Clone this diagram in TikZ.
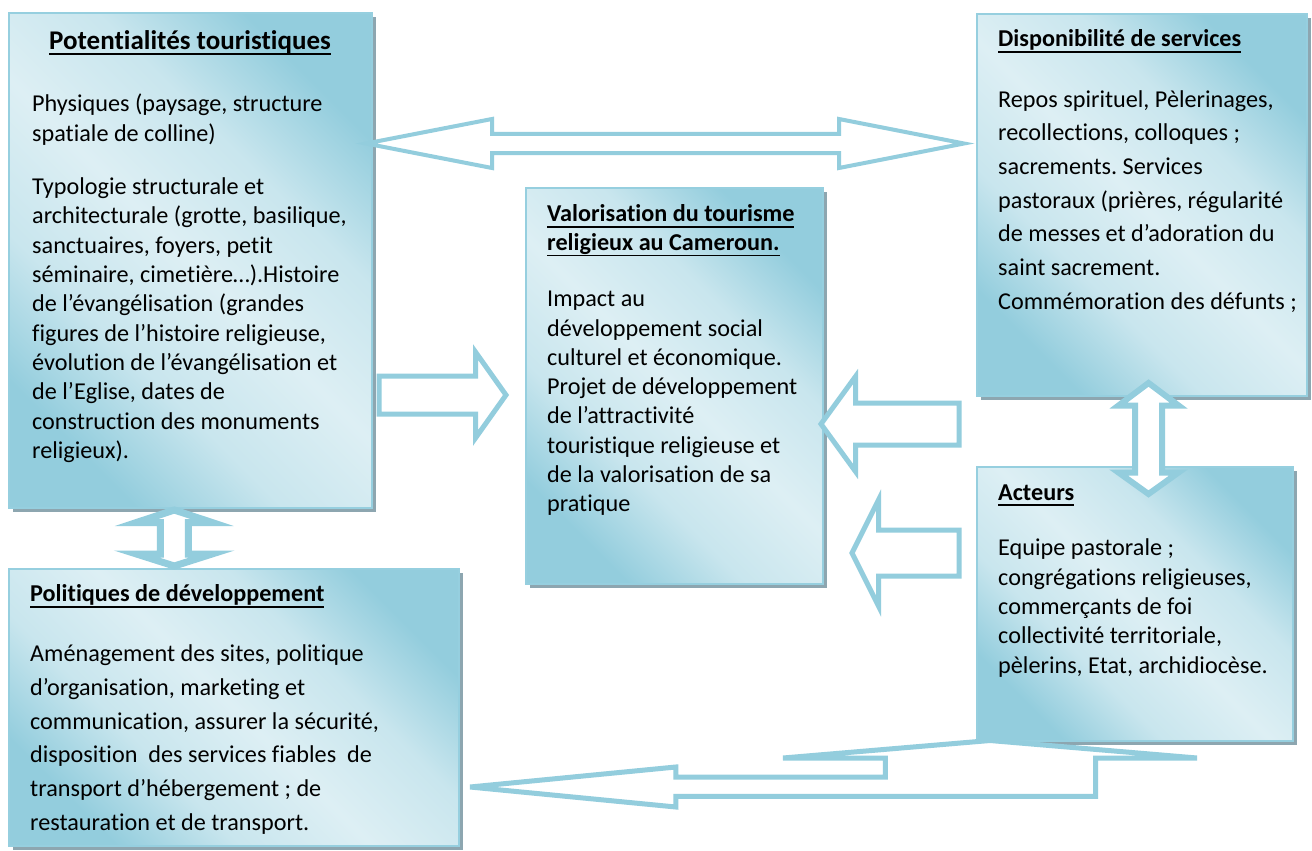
\documentclass[tikz,border=0pt]{standalone}
\usepackage{fontspec}
\setmainfont{Carlito}[Ligatures=CommonOff]
\usetikzlibrary{shadows}
\definecolor{boxdark}{RGB}{147,205,221}
\definecolor{boxlight}{RGB}{221,239,244}
\colorlet{boxmid}{boxlight!72!boxdark}
\definecolor{boxborder}{RGB}{150,207,223}
\definecolor{arrowc}{RGB}{147,205,221}
\definecolor{shadowc}{RGB}{141,166,176}
\pgfdeclareverticalshading{panelshade}{100bp}{color(0bp)=(boxdark); color(25bp)=(boxdark); color(37bp)=(boxmid); color(50bp)=(boxlight); color(63bp)=(boxmid); color(75bp)=(boxdark); color(100bp)=(boxdark)}
\newsavebox{\ulsave}
\newcommand{\ulx}[1]{\sbox{\ulsave}{#1}\rlap{\rule[-5.8pt]{\wd\ulsave}{1.4pt}}\usebox{\ulsave}}
\frenchspacing
\begin{document}
\begin{tikzpicture}[x=1pt,y=-1pt,
  panel/.style={draw=boxborder, line width=1.8pt, inner sep=0pt, anchor=north west,
    shade, shading=panelshade, shading angle=-45,
    drop shadow={shadow xshift=4pt, shadow yshift=-4pt, fill=shadowc, opacity=1}},
  blockarrow/.style={draw=arrowc, line width=4.5pt, fill=white, line join=miter},
  body/.style={anchor=base west, inner sep=0pt, align=left, font=\fontsize{24.2pt}{29.3pt}\selectfont},
  bodywide/.style={body, font=\fontsize{24.2pt}{33.7pt}\selectfont},
  titletext/.style={anchor=base west, inner sep=0pt, align=left, font=\bfseries\fontsize{24.2pt}{28.5pt}\selectfont}]
\useasboundingbox (0,0) rectangle (1312,851);
\fill[white] (0,0) rectangle (1312,851);
% boxes
\node[panel, minimum width=363pt, minimum height=495pt] (b1) at (8,12) {};
\node[panel, minimum width=330pt, minimum height=382pt] (b2) at (976,13) {};
\node[panel, minimum width=297pt, minimum height=396pt] (b3) at (525,187) {};
\node[panel, minimum width=316pt, minimum height=274pt] (b4) at (976,466) {};
\node[panel, minimum width=450pt, minimum height=277pt] (b5) at (8,568) {};
% arrows
\draw[blockarrow, line width=4pt] (366,143.5) -- (492,119) -- (492,133.8) -- (839,133.8) -- (839,119) -- (964,143.5)
  -- (839,168) -- (839,153.2) -- (492,153.2) -- (492,168) -- cycle;
\draw[blockarrow, line width=5pt] (379,376) -- (475.5,376) -- (475.5,352) -- (506,395) -- (475.5,438) -- (475.5,414) -- (379,414) -- cycle;
\draw[blockarrow, line width=5pt] (821,424) -- (855.5,376.5) -- (855.5,403) -- (959,403) -- (959,445) -- (855.5,445) -- (855.5,471.5) -- cycle;
\draw[blockarrow, line width=5pt] (852,553) -- (878.5,500) -- (878.5,530) -- (959,530) -- (959,576) -- (878.5,576) -- (878.5,606) -- cycle;
\draw[blockarrow, line width=6pt] (1148.5,383) -- (1178.5,405.5) -- (1162,405.5) -- (1162,472.5) -- (1178.5,472.5) -- (1148.5,494)
  -- (1118.5,472.5) -- (1135,472.5) -- (1135,405.5) -- (1118.5,405.5) -- cycle;
\draw[blockarrow, line width=7pt] (174.3,510) -- (212,522.5) -- (188.3,522.5) -- (188.3,554) -- (212,554) -- (174.3,566)
  -- (136.5,554) -- (160.3,554) -- (160.3,522.5) -- (136.5,522.5) -- cycle;
\draw[blockarrow, line width=5pt] (470,787) -- (675.8,767) -- (675.8,777) -- (885.3,777) -- (885.3,758) -- (783,758)
  -- (990,740.5) -- (1197,758) -- (1095.5,758) -- (1095.5,796.3) -- (675.8,796.3) -- (675.8,807) -- cycle;
% texts box 1
\node[titletext, anchor=base, font=\bfseries\fontsize{27pt}{30pt}\selectfont] (t1) at (190,49) {\ulx{Potentialités touristiques}};
\node[body] (p1a) at (32,141) {Physiques (paysage, structure\\spatiale de colline)};
\node[body] (p1b) at (32,458.3) {Typologie structurale et\\architecturale (grotte, basilique,\\sanctuaires, foyers, petit\\séminaire, cimetière…).Histoire\\de l’évangélisation (grandes\\figures de l’histoire religieuse,\\évolution de l’évangélisation et\\de l’Eglise, dates de\\construction des monuments\\religieux).};
% box 2
\node[titletext] (t2) at (998,47) {\ulx{Disponibilité de services}};
\node[bodywide] (p2) at (998,309.2) {Repos spirituel, Pèlerinages,\\recollections, colloques ;\\sacrements. Services\\pastoraux (prières, régularité\\de messes et d’adoration du\\saint sacrement.\\Commémoration des défunts ;};
% box 3
\node[titletext] (t3) at (547,250.2) {\ulx{Valorisation du tourisme}\\\ulx{religieux au Cameroun.}};
\node[body] (p3) at (547,511.8) {Impact au\\développement social\\culturel et économique.\\Projet de développement\\de l’attractivité\\touristique religieuse et\\de la valorisation de sa\\pratique};
% box 4
\node[titletext] (t4) at (998,500) {\ulx{Acteurs}};
\node[body] (p4) at (998,673) {Equipe pastorale ;\\congrégations religieuses,\\commerçants de foi\\collectivité territoriale,\\pèlerins, Etat, archidiocèse.};
% box 5
\node[titletext] (t5) at (30,601.7) {\ulx{Politiques de développement}};
\node[bodywide] (p5) at (30,830.2) {Aménagement des sites, politique\\d’organisation, marketing et\\communication, assurer la sécurité,\\disposition\ \ des services fiables\ \ de\\transport d’hébergement ; de\\restauration et de transport.};
\end{tikzpicture}
\end{document}
